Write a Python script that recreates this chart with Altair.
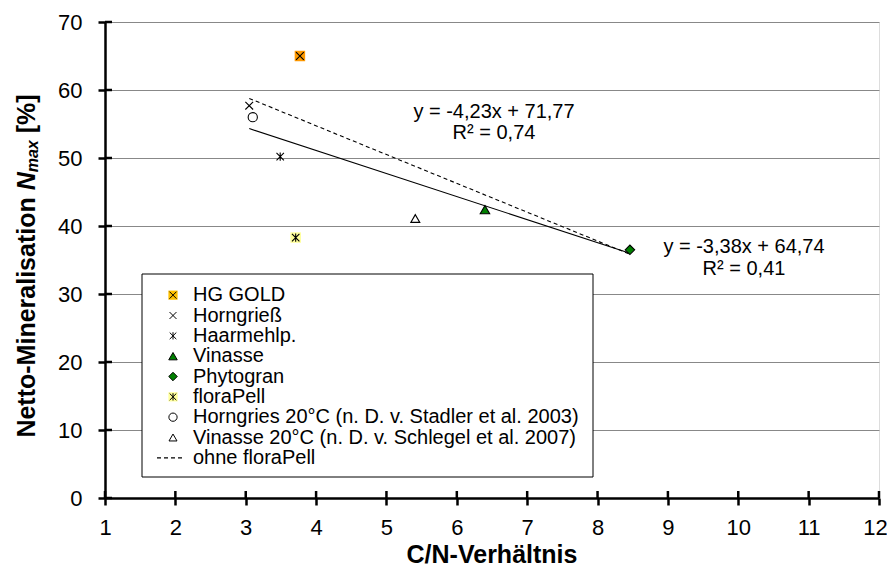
import altair as alt
import pandas as pd

# ---------------- data ----------------
series = [
    "HG GOLD",
    "Horngrieß",
    "Haarmehlp.",
    "Vinasse",
    "Phytogran",
    "floraPell",
    "Horngries 20°C (n. D. v. Stadler et al. 2003)",
    "Vinasse 20°C (n. D. v. Schlegel et al. 2007)",
]
cn_ratio = [3.77, 3.05, 3.49, 6.40, 8.46, 3.71, 3.10, 5.41]
n_max = [65.0, 57.7, 50.2, 42.4, 36.5, 38.3, 56.0, 41.1]
in_trend = [True, True, True, True, True, True, False, False]
dashed_label = "ohne floraPell"
excluded_for_dashed = "floraPell"
eq_all = ["y = -3,38x + 64,74", "R² = 0,41"]
eq_without = ["y = -4,23x + 71,77", "R² = 0,74"]
x_ticks = list(range(1, 13))
y_ticks = list(range(0, 71, 10))
x_title = "C/N-Verhältnis"
y_title_parts = ["Netto-Mineralisation", "N", "max", "[%]"]

# ---------------- styles ----------------
FONT = "Liberation Sans"
X_PATH = "M-1,-1L1,1M-1,1L1,-1"
STAR_PATH = "M-1,-1L1,1M-1,1L1,-1M0,-1.1L0,1.1"
style = {
    "HG GOLD": dict(bg="#FF9900", lbg="#FFC000", shape=X_PATH, fill="transparent", size=60),
    "Horngrieß": dict(bg=None, lbg=None, shape=X_PATH, fill="transparent", size=60),
    "Haarmehlp.": dict(bg=None, lbg=None, shape=STAR_PATH, fill="transparent", size=55),
    "Vinasse": dict(bg=None, lbg=None, shape="triangle-up", fill="#008000", size=90),
    "Phytogran": dict(bg=None, lbg=None, shape="diamond", fill="#008000", size=90),
    "floraPell": dict(bg="#FFFF99", lbg="#FFFF99", shape=STAR_PATH, fill="transparent", size=55),
    series[6]: dict(bg=None, lbg=None, shape="circle", fill="white", size=85),
    series[7]: dict(bg=None, lbg=None, shape="triangle-up", fill="white", size=80),
}

df = pd.DataFrame({"series": series, "cn": cn_ratio, "nmax": n_max, "trend": in_trend})
df["shape"] = [style[s]["shape"] for s in series]
df["fill"] = [style[s]["fill"] for s in series]
df["bg"] = [style[s]["bg"] for s in series]
df["lbg"] = [style[s]["lbg"] for s in series]
df["size"] = [style[s]["size"] for s in series]

W, H = 774, 476

xs = alt.Scale(domain=[1, 12], nice=False, zero=False)
ys = alt.Scale(domain=[0, 70], nice=False, zero=True)
x_axis = alt.Axis(values=x_ticks, title=None, grid=False, domainColor="black", domainWidth=2.5,
                  tickColor="black", tickWidth=2.5, tickSize=7, labelFontSize=22, labelFont=FONT,
                  labelColor="black", labelPadding=12, labelFlush=False,
                  labelOffset=alt.expr("datum.value == 12 ? -4 : 0"))
y_axis = alt.Axis(values=y_ticks, title=None, grid=True, gridColor="#888888", gridWidth=1,
                  domainColor="black", domainWidth=2.5, tickColor="black", tickWidth=2.5, tickSize=7,
                  labelFontSize=22, labelFont=FONT, labelColor="black", labelPadding=16)
X = alt.X("cn:Q", scale=xs, axis=x_axis)
Y = alt.Y("nmax:Q", scale=ys, axis=y_axis)

base = alt.Chart(df)

# inward part of the tick marks
xt = alt.Chart(pd.DataFrame({"cn": x_ticks})).mark_rule(color="black", strokeWidth=2.5).encode(
    x=X, y=alt.value(H - 7), y2=alt.value(H))
yt = alt.Chart(pd.DataFrame({"nmax": y_ticks})).mark_rule(color="black", strokeWidth=2.5).encode(
    y=Y, x=alt.value(0), x2=alt.value(7))

trend_all = base.transform_filter("datum.trend").transform_regression("cn", "nmax").mark_line(
    color="black", strokeWidth=1.1).encode(x=X, y=Y)
trend_wo = base.transform_filter("datum.trend").transform_filter(
    f"datum.series != '{excluded_for_dashed}'").transform_regression("cn", "nmax").mark_line(
    color="black", strokeWidth=1.1, strokeDash=[4, 3]).encode(x=X, y=Y)

bgpts = base.transform_filter("datum.bg != null").mark_point(
    shape="square", filled=True, size=110, opacity=1, strokeWidth=0).encode(
    x=X, y=Y, fill=alt.Fill("bg:N", scale=None))
pts = base.mark_point(filled=True, opacity=1, stroke="black", strokeWidth=1.1).encode(
    x=X, y=Y,
    shape=alt.Shape("shape:N", scale=None),
    fill=alt.Fill("fill:N", scale=None),
    size=alt.Size("size:Q", scale=None),
)

def txt(t, x, y, size=20, **kw):
    return alt.Chart(pd.DataFrame({"t": [t]})).mark_text(
        font=FONT, fontSize=size, color="black", baseline="middle", **kw).encode(
        text="t:N", x=alt.value(x), y=alt.value(y))

ann = [
    txt(eq_without[0], 389, 90, align="center"),
    txt(eq_without[1], 389, 111, align="center"),
    txt(eq_all[0], 639, 225, align="center"),
    txt(eq_all[1], 639, 247, align="center"),
    txt(x_title, 387, 533, size=25, align="center", fontWeight="bold"),
]

# y-axis title with italic N and subscript "max" (rotated)
yt_x = -78
y0 = 415.6
ytitle = [
    txt(y_title_parts[0], yt_x, y0, size=25, align="left", angle=270, fontWeight="bold"),
    txt(y_title_parts[1], yt_x, y0 - 247.3, size=25, align="left", angle=270, fontWeight="bold", fontStyle="italic"),
    txt(y_title_parts[2], yt_x + 6, y0 - 265.3, size=16, align="left", angle=270, fontWeight="bold", fontStyle="italic"),
    txt(y_title_parts[3], yt_x, y0 - 304.3, size=25, align="left", angle=270, fontWeight="bold"),
]

main = alt.layer(trend_all, trend_wo, bgpts, pts, xt, yt, *ann, *ytitle)

# ---------------- legend ----------------
leg_labels = series + [dashed_label]
ldf = pd.DataFrame({"label": leg_labels, "row": list(range(len(leg_labels)))})
ldf["shape"] = [style[s]["shape"] if s in style else None for s in leg_labels]
ldf["fill"] = [style[s]["fill"] if s in style else None for s in leg_labels]
ldf["lbg"] = [style[s]["lbg"] if s in style else None for s in leg_labels]
ldf["size"] = [style[s]["size"] * 0.8 if s in style else None for s in leg_labels]
ldf["dash"] = [s == dashed_label for s in leg_labels]

LY = alt.Y("row:O", scale=alt.Scale(range=[263, 446], padding=0), axis=None)
lbase = alt.Chart(ldf)
box = alt.Chart(pd.DataFrame({"a": [0]})).mark_rect(fill="white", stroke="black", strokeWidth=1).encode(
    x=alt.value(37), x2=alt.value(488), y=alt.value(252), y2=alt.value(455))
lbg = lbase.transform_filter("datum.lbg != null").mark_point(
    shape="square", filled=True, size=85, opacity=1, strokeWidth=0).encode(
    y=LY, x=alt.value(68), fill=alt.Fill("lbg:N", scale=None))
lsym = lbase.transform_filter("datum.shape != null").mark_point(
    filled=True, opacity=1, stroke="black", strokeWidth=1).encode(
    y=LY, x=alt.value(68),
    shape=alt.Shape("shape:N", scale=None),
    fill=alt.Fill("fill:N", scale=None),
    size=alt.Size("size:Q", scale=None))
ldash = lbase.transform_filter("datum.dash").mark_rule(
    color="black", strokeWidth=1.1, strokeDash=[4, 3]).encode(
    y=LY, x=alt.value(52), x2=alt.value(80))
ltext = lbase.mark_text(font=FONT, fontSize=20, align="left", baseline="middle", color="black").encode(
    y=LY, x=alt.value(88), text="label:N")

legend = alt.layer(box, lbg, lsym, ldash, ltext)

chart = alt.layer(main, legend).resolve_scale(y="independent").properties(
    width=W, height=H,
    padding={"left": 97, "top": 14, "right": 8, "bottom": 70},
    autosize=alt.AutoSizeParams(type="none"),
).configure_view(stroke="#888888", strokeWidth=1).configure(background="white")

chart.save("out.html", embed_options={"renderer": "svg", "actions": False})
